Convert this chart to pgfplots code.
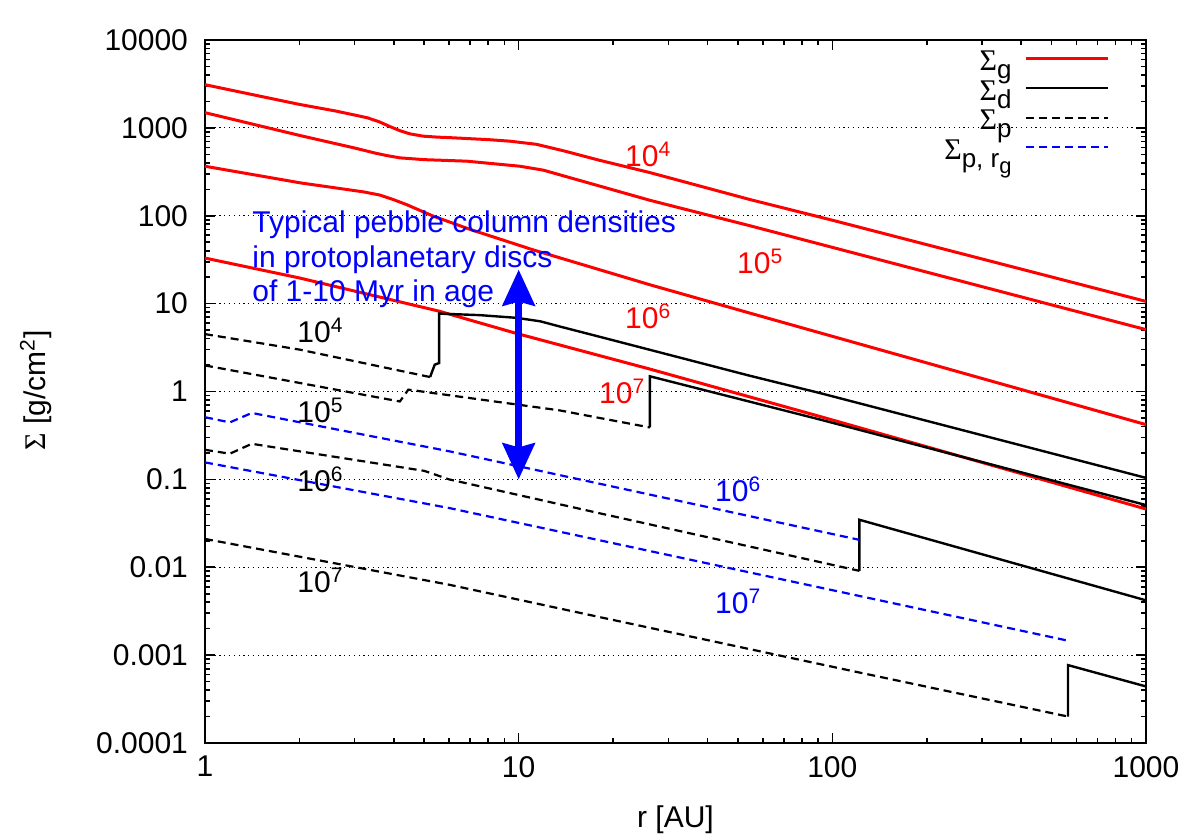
\documentclass[border=0pt]{standalone}
\usepackage{fontspec}
\setmainfont{Liberation Sans}
\newfontfamily\symf{Liberation Serif}
\usepackage{pgfplots}
\pgfplotsset{compat=1.18}
\usetikzlibrary{arrows.meta}
\newcommand{\Sig}{{\symf Σ}}
\newcommand{\lsub}[1]{\raisebox{-4pt}{\fontsize{13pt}{13pt}\selectfont #1}}
\newcommand{\lsubsub}[1]{\raisebox{-3pt}{\fontsize{11pt}{11pt}\selectfont #1}}

\begin{document}
\begin{tikzpicture}[font=\fontsize{15pt}{18pt}\selectfont]
\useasboundingbox (-102.5pt,-48.5pt) rectangle (497.5pt,371.5pt);
\begin{axis}[
  scale only axis, width=470.5pt, height=351.5pt,
  xmode=log, ymode=log, xmin=1, xmax=1000, ymin=1e-4, ymax=1e4,
  xtick={1,10,100,1000}, xticklabels={1,10,100,1000},
  ytick={1e-4,1e-3,1e-2,1e-1,1,10,100,1000,10000},
  yticklabels={0.0001,0.001,0.01,0.1,1,10,100,1000,10000},
  minor xtick={2,3,4,5,6,7,8,9,20,30,40,50,60,70,80,90,200,300,400,500,600,700,800,900},
  minor ytick={2e-4,3e-4,4e-4,5e-4,6e-4,7e-4,8e-4,9e-4,
               2e-3,3e-3,4e-3,5e-3,6e-3,7e-3,8e-3,9e-3,
               2e-2,3e-2,4e-2,5e-2,6e-2,7e-2,8e-2,9e-2,
               0.2,0.3,0.4,0.5,0.6,0.7,0.8,0.9,
               2,3,4,5,6,7,8,9,20,30,40,50,60,70,80,90,
               200,300,400,500,600,700,800,900,
               2000,3000,4000,5000,6000,7000,8000,9000},
  /pgf/number format/assume math mode=true,
  tick align=inside, major tick length=5pt, minor tick length=2.5pt,
  tick style={black, line width=0.8pt},
  axis line style={line width=1pt},
  ymajorgrids,
  major y grid style={black, line width=0.5pt, dash pattern=on 0.6pt off 1.8pt},
  yticklabel style={xshift=-5pt},
  xticklabel style={yshift=-3pt},
  xlabel={r [AU]},
  ylabel={\Sig{} [g/cm\textsuperscript{2}]},
  xlabel style={at={(axis description cs:0.5,-0.1095)}, anchor=center},
  ylabel style={at={(axis description cs:-0.18,0.502)}, anchor=center},
  legend plot pos=right,
  legend cell align=right,
  legend image code/.code={\draw[#1] (0pt,3pt) -- (41pt,3pt);},
  legend style={draw=none, fill=none, at={(axis description cs:0.9617,0.9872)},
    anchor=north east, inner sep=0pt, row sep=0pt, column sep=6.5pt,
    nodes={inner sep=0pt, text height=10.5pt, text depth=4.35pt}},
]
\addlegendimage{red, line width=1.5pt}
\addlegendentry{\Sig\lsub{g}}
\addlegendimage{black, line width=1.2pt}
\addlegendentry{\Sig\lsub{d}}
\addlegendimage{black, line width=1.1pt, dash pattern=on 4pt off 2.5pt}
\addlegendentry{\Sig\lsub{p}}
\addlegendimage{blue, line width=1.1pt, dash pattern=on 4pt off 2.5pt}
\addlegendentry{\Sig\lsub{p, r\lsubsub{g}}}

% Sigma_g (red)
\addplot[red, line width=1.5pt, forget plot] coordinates {
 (1,3100) (2,1850) (2.6,1560) (3.0,1400) (3.3,1300) (3.6,1170) (3.9,1030) (4.18,930)
 (4.5,855) (4.96,805) (5.5,785) (6,775) (8,735)
 (9.37,706) (11.4,650) (14,545) (18,430) (26.2,310) (54.6,153) (100,89) (1000,10.6)};
\addplot[red, line width=1.5pt, forget plot] coordinates {
 (1,1490) (2.01,818) (3,590) (3.5,515) (3.79,485) (4.18,456) (5,435) (6.83,418) (10.1,366) (12,330)
 (26.2,150) (54.6,77) (1000,5.06)};
\addplot[red, line width=1.5pt, forget plot] coordinates {
 (1,366) (2.01,237) (3.2,187) (3.61,172) (4.0,152) (4.39,134) (5.34,99) (7,70) (11.1,41) (26.2,16.4)
 (54.6,7.8) (1000,0.42)};
\addplot[red, line width=1.5pt, forget plot] coordinates {
 (1,33) (2,19.6) (5.58,8.2) (9.8,4.6) (26.2,1.80) (91.3,0.52) (1000,0.046)};

% Sigma_d (black solid)
\addplot[black, line width=1.2pt, forget plot] coordinates {
 (5.22,1.46) (5.4,2.02) (5.58,2.11) (5.58,7.7) (7.5,7.4) (9.8,6.9) (11.7,6.3)
 (13.5,5.5) (18.1,4.2) (54.6,1.51) (91.3,0.96) (1000,0.104)};
\addplot[black, line width=1.2pt, forget plot] coordinates {
 (26.2,0.39) (26.2,1.49) (91.3,0.48) (1000,0.051)};
\addplot[black, line width=1.2pt, forget plot] coordinates {
 (122,0.0091) (122,0.0347) (1000,0.0042)};
\addplot[black, line width=1.2pt, forget plot] coordinates {
 (564,0.0002) (564,0.00077) (1000,0.00044)};

% Sigma_p (black dashed)
\addplot[black, line width=1.1pt, dash pattern=on 4pt off 2.5pt, forget plot] coordinates {
 (1,4.5) (2,3.0) (5.22,1.46)};
\addplot[black, line width=1.1pt, dash pattern=on 4pt off 2.5pt, forget plot] coordinates {
 (1,1.98) (4.18,0.77) (4.45,1.05) (13.5,0.61) (18.1,0.50) (26.2,0.39)};
\addplot[black, line width=1.1pt, dash pattern=on 4pt off 2.5pt, forget plot] coordinates {
 (1,0.217) (1.2,0.196) (1.41,0.254) (5.0,0.125) (6.0,0.100) (18.2,0.041) (122,0.0091)};
\addplot[black, line width=1.1pt, dash pattern=on 4pt off 2.5pt, forget plot] coordinates {
 (1,0.021) (6.04,0.0063) (18.2,0.0027) (123,0.00063) (564,0.0002)};

% Sigma_p,rg (blue dashed)
\addplot[blue, line width=1.1pt, dash pattern=on 4pt off 2.5pt, forget plot] coordinates {
 (1,0.51) (1.2,0.445) (1.41,0.57) (6.04,0.208) (122,0.0205)};
\addplot[blue, line width=1.1pt, dash pattern=on 4pt off 2.5pt, forget plot] coordinates {
 (1,0.156) (6.04,0.047) (564,0.00146)};

% arrow
\addplot[blue, line width=3.5pt, forget plot,
 {Stealth[length=18pt,width=16pt,inset=2pt]}-{Stealth[length=18pt,width=16pt,inset=2pt]}]
 coordinates {(10,0.1) (10,24.4)};

% labels
\node[red, anchor=base west, inner sep=0pt] at (axis cs:21.8,363) {10\textsuperscript{4}};
\node[red, anchor=base west, inner sep=0pt] at (axis cs:49.6,22.0) {10\textsuperscript{5}};
\node[red, anchor=base west, inner sep=0pt] at (axis cs:21.8,5.19) {10\textsuperscript{6}};
\node[red, anchor=base west, inner sep=0pt] at (axis cs:18.0,0.726) {10\textsuperscript{7}};
\node[black, anchor=base west, inner sep=0pt] at (axis cs:1.965,3.6) {10\textsuperscript{4}};
\node[black, anchor=base west, inner sep=0pt] at (axis cs:1.965,0.442) {10\textsuperscript{5}};
\node[black, anchor=base west, inner sep=0pt] at (axis cs:1.965,0.0723) {10\textsuperscript{6}};
\node[black, anchor=base west, inner sep=0pt] at (axis cs:1.965,0.0051) {10\textsuperscript{7}};
\node[blue, anchor=base west, inner sep=0pt] at (axis cs:42.2,0.0556) {10\textsuperscript{6}};
\node[blue, anchor=base west, inner sep=0pt] at (axis cs:42.2,0.00294) {10\textsuperscript{7}};
\node[blue, anchor=base west, inner sep=0pt] at (axis cs:1.412,64.4) {Typical pebble column densities};
\node[blue, anchor=base west, inner sep=0pt] at (axis cs:1.412,25.7) {in protoplanetary discs};
\node[blue, anchor=base west, inner sep=0pt] at (axis cs:1.412,10.5) {of 1-10 Myr in age};
\end{axis}
\end{tikzpicture}
\end{document}
